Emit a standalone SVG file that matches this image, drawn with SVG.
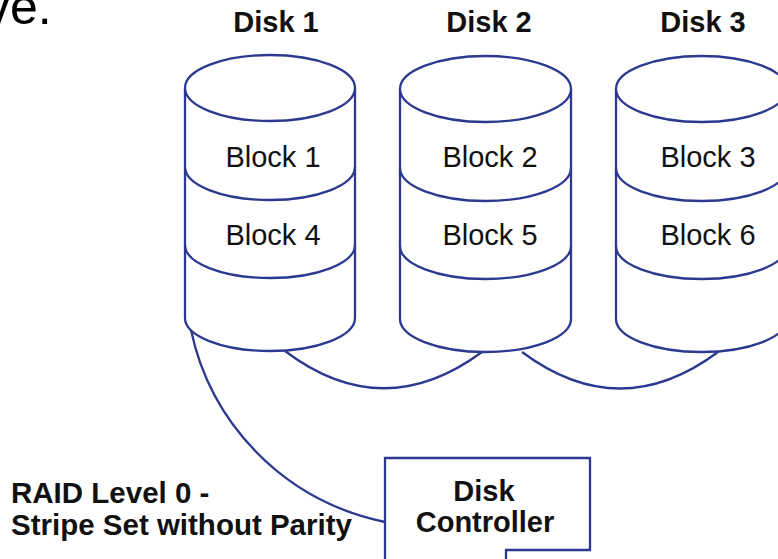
<svg xmlns="http://www.w3.org/2000/svg" width="778" height="559" viewBox="0 0 778 559">
<style>
.ln{fill:none;stroke:#2b3990;stroke-width:2.3}
.body{fill:#fff;stroke:#2b3990;stroke-width:2.3}
.lbl{font-family:"Liberation Sans",Arial,sans-serif;font-size:29px;font-weight:bold;fill:#111;text-anchor:middle}
.blk{font-family:"Liberation Sans",Arial,sans-serif;font-size:29px;fill:#111;text-anchor:middle}
.big{font-family:"Liberation Sans",Arial,sans-serif;font-size:50px;fill:#000}
.note{font-family:"Liberation Sans",Arial,sans-serif;font-size:29.5px;font-weight:bold;fill:#111}
</style>
<rect width="778" height="559" fill="#fff"/>
<text class="big" x="-15" y="24">ve.</text>

<g id="connectors">
<path class="ln" d="M191,330 C210,420 280,500 385,522"/>
<path class="ln" d="M285,351 Q383,425 482,352"/>
<path class="ln" d="M522,352 Q620,425 718,352"/>
</g>

<g id="disk1">
<text class="lbl" x="276" y="32">Disk 1</text>
<path class="body" d="M185,88 V318 A85 33 0 0 0 355,318 V88"/>
<ellipse class="body" cx="270" cy="88" rx="85" ry="33"/>
<path class="ln" d="M185,167 A85 33 0 0 0 355,167"/>
<path class="ln" d="M185,245 A85 33 0 0 0 355,245"/>
<text class="blk" x="273" y="167">Block 1</text>
<text class="blk" x="273" y="245">Block 4</text>
</g>

<g id="disk2">
<text class="lbl" x="489" y="32">Disk 2</text>
<path class="body" d="M400,89 V319 A85.5 33 0 0 0 571,319 V89"/>
<ellipse class="body" cx="485.5" cy="89" rx="85.5" ry="33"/>
<path class="ln" d="M400,168 A85.5 33 0 0 0 571,168"/>
<path class="ln" d="M400,246 A85.5 33 0 0 0 571,246"/>
<text class="blk" x="490" y="167">Block 2</text>
<text class="blk" x="490" y="245">Block 5</text>
</g>

<g id="disk3">
<text class="lbl" x="703" y="32">Disk 3</text>
<path class="body" d="M616,89 V319 A85.5 33 0 0 0 787,319 V89"/>
<ellipse class="body" cx="701.5" cy="89" rx="85.5" ry="33"/>
<path class="ln" d="M616,168 A85.5 33 0 0 0 787,168"/>
<path class="ln" d="M616,246 A85.5 33 0 0 0 787,246"/>
<text class="blk" x="708" y="167">Block 3</text>
<text class="blk" x="708" y="245">Block 6</text>
</g>

<g id="controller">
<path class="body" d="M385,562 V458 H590 V550 H506 V562"/>
<text class="lbl" x="484" y="501">Disk</text>
<text class="lbl" x="485" y="532">Controller</text>
</g>

<g id="caption">
<text class="note" x="11" y="503">RAID Level 0 -</text>
<text class="note" x="11" y="535">Stripe Set without Parity</text>
</g>
</svg>
